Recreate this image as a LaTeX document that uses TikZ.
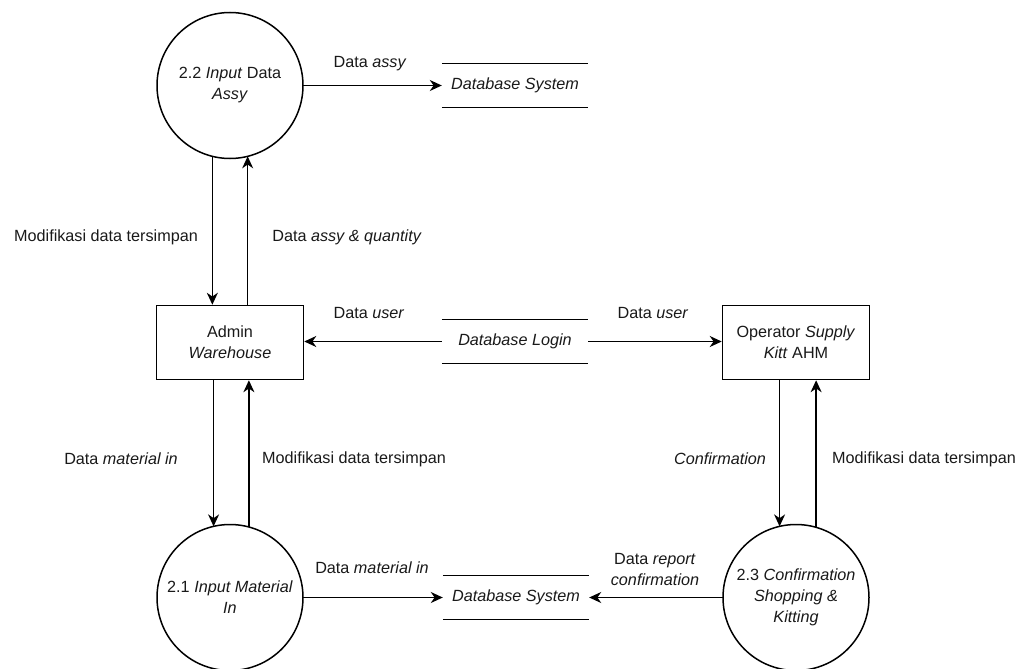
\documentclass[tikz,border=0pt]{standalone}
\usepackage{fontspec}
\setmainfont{Liberation Sans}
\usetikzlibrary{arrows.meta}
\begin{document}
\begin{tikzpicture}[x=1bp,y=-1bp,
  every node/.style={font=\fontsize{16.2bp}{21bp}\selectfont, align=center, text=black!90},
  proc/.style={draw, circle, line width=1.5bp, minimum size=146bp, inner sep=0pt, outer sep=0pt},
  entity/.style={draw, rectangle, line width=1.5bp, minimum width=147bp, minimum height=74bp, inner sep=0pt},
  store/.style={minimum width=146bp, minimum height=44bp, inner sep=0pt},
  flow/.style={line width=1.5bp, -{Stealth[length=12bp,width=11bp,inset=3.8bp]}},
  storeline/.style={line width=1.5bp},
  lbl/.style={inner sep=1pt}]
\useasboundingbox (0,0) rectangle (1024,669);

% processes
\node[proc] (p22) at (230,85.5) {2.2 \textit{Input} Data\\\textit{Assy}};
\node[proc] (p21) at (230,597.5) {2.1 \textit{Input Material}\\\textit{In}};
\node[proc] (p23) at (796,597.5) {2.3 \textit{Confirmation}\\\textit{Shopping \&}\\\textit{Kitting}};

% external entities
\node[entity] (admin) at (230,342.5) {Admin\\\textit{Warehouse}};
\node[entity] (oper) at (796,342.5) {Operator \textit{Supply}\\\textit{Kitt} AHM};

% data stores
\node[store] (dbtop) at (515,85.5) {\textit{Database System}};
\node[store] (dblogin) at (515,341.5) {\textit{Database Login}};
\node[store] (dbbot) at (516,597.5) {\textit{Database System}};
\foreach \s in {dbtop,dblogin,dbbot}{
  \draw[storeline] (\s.north west) -- (\s.north east);
  \draw[storeline] (\s.south west) -- (\s.south east);
}

% connectors: top process
\draw[flow] (p22.east) -- (dbtop.west);
\draw[flow] (p22.256.13) -- (p22.256.13 |- admin.north);
\draw[flow] (p22.284.68 |- admin.north) -- (p22.284.68);

% connectors: login store
\draw[flow] (dblogin.west) -- (dblogin.west -| admin.east);
\draw[flow] (dblogin.east) -- (dblogin.east -| oper.west);

% connectors: admin and process 2.1
\draw[flow] (p21.103.87 |- admin.south) -- (p21.103.87);
\draw[flow] (p21.75.32) -- (p21.75.32 |- admin.south);
\draw[flow] (p21.east) -- (dbbot.west);

% connectors: operator and process 2.3
\draw[flow] (p23.103.06 |- oper.south) -- (p23.103.06);
\draw[flow] (p23.74.51) -- (p23.74.51 |- oper.south);
\draw[flow] (p23.west) -- (dbbot.east);

% flow labels
\node[lbl] (l1) at (370,64) {Data \textit{assy}};
\node[lbl] (l2) at (106,237) {Modifikasi data tersimpan};
\node[lbl] (l3) at (347,237) {Data \textit{assy \& quantity}};
\node[lbl] (l4) at (369,313) {Data \textit{user}};
\node[lbl] (l5) at (653,313) {Data \textit{user}};
\node[lbl] (l6) at (121,459) {Data \textit{material in}};
\node[lbl] (l7) at (354,459) {Modifikasi data tersimpan};
\node[lbl] (l8) at (720,459) {\textit{Confirmation}};
\node[lbl] (l9) at (924,459) {Modifikasi data tersimpan};
\node[lbl] (l10) at (372,568) {Data \textit{material in}};
\node[lbl] (l11) at (655,569.5) {Data \textit{report}\\\textit{confirmation}};
\end{tikzpicture}
\end{document}
